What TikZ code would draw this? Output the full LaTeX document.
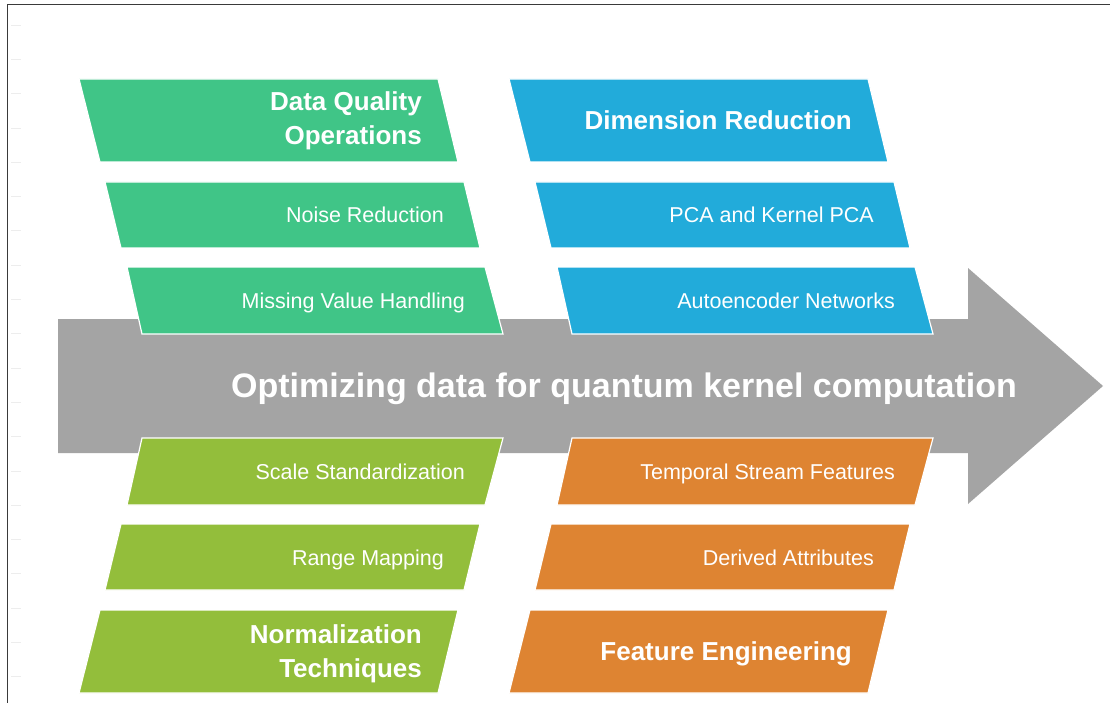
\documentclass[tikz,border=0pt]{standalone}
\usepackage{fontspec}
\setmainfont{Liberation Sans}
\definecolor{qgreen}{HTML}{40C587}
\definecolor{qblue}{HTML}{22ABDA}
\definecolor{qlime}{HTML}{93BE3B}
\definecolor{qorange}{HTML}{DE8432}
\definecolor{qgray}{HTML}{A4A4A4}
\definecolor{qframe}{HTML}{3A3A3A}
\definecolor{qtick}{HTML}{EDEDED}
\begin{document}
\begin{tikzpicture}[x=1pt,y=-1pt,
  pbox/.style={draw=white,line width=1.2pt,line join=miter},
  smalltxt/.style={text=white,font=\fontsize{21.5}{26}\selectfont,anchor=base east,inner sep=0pt},
  headtxt/.style={text=white,font=\bfseries\fontsize{26}{34}\selectfont,anchor=base east,inner sep=0pt},
  head2txt/.style={text=white,font=\bfseries\fontsize{26}{34}\selectfont,anchor=east,align=right,inner sep=0pt},
  titletxt/.style={text=white,font=\bfseries\fontsize{34}{40}\selectfont,anchor=base,inner sep=0pt},
  framestyle/.style={draw=qframe,line width=1pt},
  tickstyle/.style={draw=qtick,line width=0.7pt}
]
\useasboundingbox (0,0) rectangle (1110,703);
\fill[white] (0,0) rectangle (1110,703);
% frame
\draw[framestyle] (7,703) -- (7,5) -- (1110,5);
% faint ticks
\foreach \k in {0,...,19} {
  \draw[tickstyle] (11,25+34.3*\k) -- (21,25+34.3*\k);
}
% big arrow
\fill[qgray] (58,319) -- (968,319) -- (968,268) -- (1103,386) -- (968,504) -- (968,453) -- (58,453) -- cycle;
\node[titletxt] (title) at (624,397) {Optimizing data for quantum kernel computation};

% upper left (green)
\filldraw[pbox,fill=qgreen] (79,79) -- (438,79) -- (458,162) -- (100,162) -- cycle;
\filldraw[pbox,fill=qgreen] (105,182) -- (464,182) -- (480,248) -- (121,248) -- cycle;
\filldraw[pbox,fill=qgreen] (127,267) -- (485,267) -- (503,334) -- (142,334) -- cycle;
\node[head2txt] (dq) at (422,121) {Data Quality\\Operations};
\node[smalltxt] (noise) at (444,222.5) {Noise Reduction};
\node[smalltxt] (missing) at (465,308) {Missing Value Handling};

% upper right (blue)
\filldraw[pbox,fill=qblue] (509,79) -- (868,79) -- (888,162) -- (530,162) -- cycle;
\filldraw[pbox,fill=qblue] (535,182) -- (894,182) -- (910,248) -- (551,248) -- cycle;
\filldraw[pbox,fill=qblue] (557,267) -- (915,267) -- (933,334) -- (572,334) -- cycle;
\node[headtxt] (dim) at (852,129.5) {Dimension Reduction};
\node[smalltxt] (pca) at (874,222.5) {PCA and Kernel PCA};
\node[smalltxt] (auto) at (895,308) {Autoencoder Networks};

% lower left (lime)
\filldraw[pbox,fill=qlime] (142,438) -- (503,438) -- (485,505) -- (127,505) -- cycle;
\filldraw[pbox,fill=qlime] (121,524) -- (480,524) -- (464,590) -- (105,590) -- cycle;
\filldraw[pbox,fill=qlime] (100,610) -- (458,610) -- (438,693) -- (79,693) -- cycle;
\node[smalltxt] (scale) at (465,479.5) {Scale Standardization};
\node[smalltxt] (range) at (444,565) {Range Mapping};
\node[head2txt] (norm) at (422,654) {Normalization\\Techniques};

% lower right (orange)
\filldraw[pbox,fill=qorange] (572,438) -- (933,438) -- (915,505) -- (557,505) -- cycle;
\filldraw[pbox,fill=qorange] (551,524) -- (910,524) -- (894,590) -- (535,590) -- cycle;
\filldraw[pbox,fill=qorange] (530,610) -- (888,610) -- (868,693) -- (509,693) -- cycle;
\node[smalltxt] (temporal) at (895,479.5) {Temporal Stream Features};
\node[smalltxt] (derived) at (874,565) {Derived Attributes};
\node[headtxt] (feat) at (852,660.5) {Feature Engineering};
\end{tikzpicture}
\end{document}
